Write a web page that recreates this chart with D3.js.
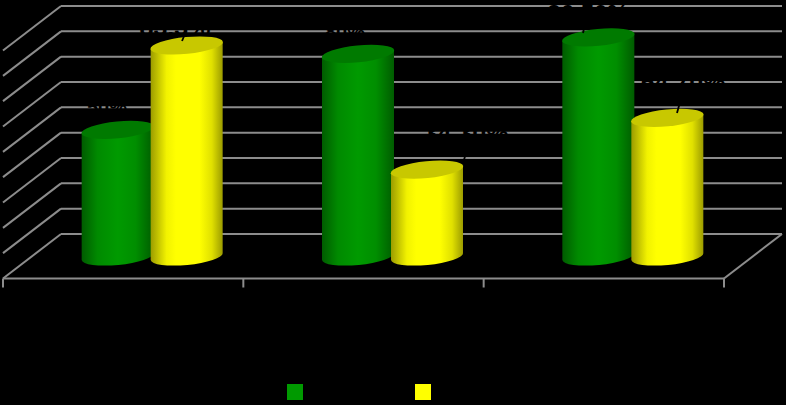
<!DOCTYPE html>
<html><head><meta charset="utf-8">
<script src="https://cdn.jsdelivr.net/npm/d3@7/dist/d3.min.js"></script>
<style>html,body{margin:0;padding:0;background:#000}svg{display:block}text{font-family:"Liberation Sans",Arial,sans-serif;fill:#000}</style>
</head><body><svg id="c" width="786" height="405"></svg>
<script>
const categories = ["Group 1", "Group 2", "Group 3"];
const seriesNames = ["Series 1", "Series 2"];
const seriesA = [50, 80, 86.5];
const seriesB = [83.3, 34.3, 54.7];
const labelsA = ["50%", "80%", "86.50%"];
const labelsB = ["83.3%", "34.30%", "54.70%"];
const colorsMain = ["#009a00", "#ffff00"];
const colorsEdge = ["#005c00", "#9c9c00"];
const colorsTop = ["#007a00", "#c8c800"];
const gridTicks = [0, 10, 20, 30, 40, 50, 60, 70, 80, 90];

const svg = d3.select("#c");
const GRID = "#8c8c8c";
const depthX = 58, depthY = 44.5;
const x = d3.scaleBand().domain(categories).range([3, 724]);
const yBack = d3.scaleLinear().domain([0, 90]).range([234, 6]);
const yFront = v => yBack(v) + depthY;
const yBar = v => yBack(v) + 22.5;
const offs = d3.scaleOrdinal().domain([0, 1]).range([-34.5, 34.5]);
const RX = 36, RY = 8.4, TILT = -5.6;
const dy = RX * Math.sin(-TILT * Math.PI / 180);

const defs = svg.append("defs");
[0, 1].forEach(s => {
  const g = defs.append("linearGradient").attr("id", "cyl" + s);
  const stops = s === 0
    ? [[0, colorsEdge[s]], [.22, "#008a00"], [.5, colorsMain[s]], [.75, "#008e00"], [1, colorsEdge[s]]]
    : [[0, colorsEdge[s]], [.22, "#f2f200"], [.35, colorsMain[s]], [.68, colorsMain[s]], [.85, "#e0e000"], [1, colorsEdge[s]]];
  stops.forEach(([o, c]) => g.append("stop").attr("offset", o).attr("stop-color", c));
});

const grid = svg.append("g").attr("fill", "none").attr("stroke", GRID).attr("stroke-width", 2);
grid.selectAll("line.back").data(gridTicks).join("line").attr("class", "back")
  .attr("x1", x.range()[0] + depthX).attr("x2", x.range()[1] + depthX)
  .attr("y1", d => yBack(d)).attr("y2", d => yBack(d));
grid.selectAll("line.side").data(gridTicks).join("line").attr("class", "side")
  .attr("x1", x.range()[0]).attr("x2", x.range()[0] + depthX)
  .attr("y1", yFront).attr("y2", d => yBack(d));
grid.append("line").attr("x1", x.range()[1]).attr("x2", x.range()[1] + depthX)
  .attr("y1", yFront(0)).attr("y2", yBack(0));
grid.append("line").attr("x1", x.range()[0]).attr("x2", x.range()[1])
  .attr("y1", yFront(0)).attr("y2", yFront(0));
const tickXs = categories.map(c => x(c)).concat(x.range()[1]);
grid.selectAll("line.tick").data(tickXs).join("line").attr("class", "tick")
  .attr("x1", d => d).attr("x2", d => d)
  .attr("y1", yFront(0)).attr("y2", yFront(0) + 9);

const rows = [seriesA, seriesB].flatMap((vals, s) => vals.map((v, i) => ({ s, i, v,
  cx: x(categories[i]) + x.bandwidth() / 2 + depthX / 2 + offs(s) })));
const order = rows.slice().sort((a, b) => a.i - b.i || a.s - b.s);
const bars = svg.append("g").selectAll("g").data(order).join("g");
bars.append("path").attr("fill", d => `url(#cyl${d.s})`).attr("d", d => {
  const l = d.cx - RX, r = d.cx + RX, t = yBar(d.v), b = yBar(0);
  return `M${l},${t + dy}L${l},${b + dy}A${RX},${RY} ${TILT} 0 0 ${r},${b - dy}L${r},${t - dy}Z`;
});
bars.append("ellipse").attr("fill", d => colorsTop[d.s])
  .attr("rx", RX + .4).attr("ry", RY)
  .attr("transform", d => `translate(${d.cx},${yBar(d.v)}) rotate(${TILT})`);

const labelRows = [
  { t: labelsA[0], lx: 107, ly: 114, size: 20 },
  { t: labelsB[0], lx: 175, ly: 36, size: 25, lead: [185, 34, 182, 41] },
  { t: labelsA[1], lx: 345, ly: 39, size: 20 },
  { t: labelsB[1], lx: 466, ly: 142, size: 25, lead: [468, 145, 464, 160] },
  { t: labelsA[2], lx: 588, ly: 22, size: 24, lead: [586, 20, 583, 33] },
  { t: labelsB[2], lx: 683, ly: 91, size: 25, lead: [682, 95, 677, 113] }
];
const lab = svg.append("g");
lab.selectAll("text").data(labelRows).join("text")
  .attr("x", d => d.lx).attr("y", d => d.ly)
  .attr("text-anchor", "middle").attr("font-weight", "bold")
  .attr("font-size", d => d.size).text(d => d.t);
lab.selectAll("line").data(labelRows.filter(d => d.lead)).join("line")
  .attr("stroke", "#000").attr("stroke-width", 1.8)
  .attr("x1", d => d.lead[0]).attr("y1", d => d.lead[1])
  .attr("x2", d => d.lead[2]).attr("y2", d => d.lead[3]);

svg.append("g").selectAll("text").data(categories).join("text")
  .attr("x", d => x(d) + x.bandwidth() / 2).attr("y", 318)
  .attr("text-anchor", "middle").attr("font-size", 18).text(d => d);

const lg = svg.append("g").selectAll("g").data(seriesNames).join("g")
  .attr("transform", (d, i) => `translate(${287 + i * 128},384)`);
lg.append("rect").attr("width", 16).attr("height", 16).attr("fill", (d, i) => colorsMain[i]);
lg.append("text").attr("x", 22).attr("y", 14).attr("font-size", 16).text(d => d);
</script></body></html>
